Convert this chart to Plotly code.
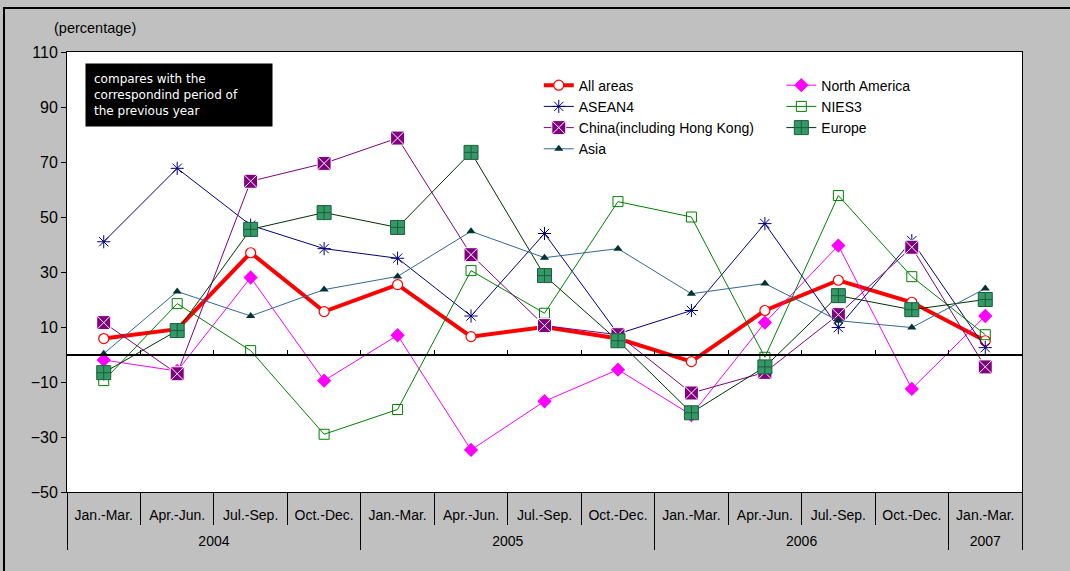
import plotly.graph_objects as go

years = ["2004"] * 4 + ["2005"] * 4 + ["2006"] * 4 + ["2007"]
quarters = ["Jan.-Mar.", "Apr.-Jun.", "Jul.-Sep.", "Oct.-Dec."] * 3 + ["Jan.-Mar."]

all_areas = [5.8, 9.2, 37, 15.6, 25.4, 6.5, 10, 5.8, -2.6, 16, 27, 19, 5]
north_america = [-2, -6, 28, -9.5, 7, -34.7, -17, -5.5, -22, 11.6, 39.6, -12.5, 14]
asean4 = [41, 67.7, 47, 38.5, 35, 14, 44, 7.5, 16, 47.6, 9.8, 41.4, 2.5]
nies3 = [-9.5, 18.5, 1.4, -29, -20, 30.5, 15, 55.6, 50, -1, 57.8, 28.3, 7.2]
china = [11.6, -7, 63, 69.5, 78.7, 36.3, 10.5, 7.2, -14, -6.5, 14.5, 39, -4.5]
europe = [-6.6, 8.7, 45.5, 51.6, 46.2, 73.5, 28.7, 5, -21.2, -4.5, 21.4, 16.3, 20]
asia = [0.3, 22.9, 14, 23.6, 28.4, 44.8, 35.2, 38.5, 22.1, 25.8, 12.3, 9.8, 24]

y_ticks = [110, 90, 70, 50, 30, 10, -10, -30, -50]

# year labels carry a leading blank line so they sit lower, as in the original
x = [[" <br>" + y for y in years], quarters]
font = "Liberation Sans, Arial, sans-serif"

fig = go.Figure()

series = [
    ("All areas", all_areas, dict(color="#FF0000", width=4),
     dict(symbol="circle", size=10, color="white", line=dict(color="#FF0000", width=1.2)), "legend"),
    ("North America", north_america, dict(color="#FF00FF", width=1),
     dict(symbol="diamond", size=11, color="#FF00FF", line=dict(color="#FF00FF", width=0)), "legend2"),
    ("ASEAN4", asean4, dict(color="#000080", width=1),
     dict(symbol="asterisk-open", size=11, color="#000080", line=dict(color="#000080", width=1)), "legend"),
    ("NIES3", nies3, dict(color="#008000", width=1),
     dict(symbol="square-open", size=10, color="#008000", line=dict(color="#008000", width=1)), "legend2"),
    ("China(including Hong Kong)", china, dict(color="#800080", width=1),
     dict(symbol="square-x", size=14, color="#800080", line=dict(color="white", width=1)), "legend"),
    ("Europe", europe, dict(color="#003300", width=1),
     dict(symbol="square-cross", size=14, color="#339966", line=dict(color="#1f5c3d", width=1)), "legend2"),
    ("Asia", asia, dict(color="#336699", width=1),
     dict(symbol="triangle-up", size=8, color="#003333", line=dict(color="#003333", width=0)), "legend"),
]

for name, vals, line, marker, leg in series:
    fig.add_trace(go.Scatter(x=x, y=vals, name=name, mode="lines+markers",
                             line=line, marker=marker, legend=leg))

# invisible trace on the overlaying axis used for the zero-line ticks
fig.add_trace(go.Scatter(x=[0, 12], y=[0, 0], xaxis="x2", mode="lines",
                         line=dict(color="rgba(0,0,0,0)"), showlegend=False,
                         hoverinfo="skip"))

legend_style = dict(
    orientation="v", y=0.96, xanchor="left", yanchor="top",
    bgcolor="rgba(0,0,0,0)", font=dict(size=14, family=font),
    itemwidth=30, traceorder="normal",
)

fig.update_layout(
    width=1070, height=571,
    margin=dict(l=67, r=48, t=52, b=79, autoexpand=False),
    paper_bgcolor="#C0C0C0",
    plot_bgcolor="white",
    font=dict(family=font, size=14.5, color="black"),
    xaxis=dict(
        type="multicategory", automargin=False, range=[-0.5, 12.5],
        showline=True, linecolor="black", linewidth=1, mirror=True,
        ticks="outside", tickson="boundaries", ticklen=32, tickcolor="black",
        showdividers=True, dividercolor="black", dividerwidth=1,
        tickfont=dict(size=14, family=font), tickangle=0,
        ticklabelstandoff=10,
        showgrid=False, zeroline=False,
    ),
    xaxis2=dict(
        overlaying="x", anchor="free", position=0.3125, side="bottom",
        range=[-0.5, 12.5], tickvals=[i + 0.5 for i in range(12)],
        ticks="inside", ticklen=4, tickcolor="black",
        showticklabels=False, showline=True, linecolor="black", linewidth=1.5,
        showgrid=False, zeroline=False, automargin=False,
    ),
    yaxis=dict(
        range=[-50, 110], tickvals=y_ticks, automargin=False,
        showline=True, linecolor="black", linewidth=1, mirror=True,
        ticks="outside", ticklen=5, tickcolor="black",
        showgrid=False, zeroline=False,
        tickfont=dict(size=16, family=font),
    ),
    legend=dict(x=0.494, **legend_style),
    legend2=dict(x=0.748, **legend_style),
    showlegend=True,
)

fig.add_annotation(
    xref="paper", yref="paper", x=0.019, y=0.975, xanchor="left", yanchor="top",
    text="compares with the<br>correspondind period of<br>the previous year",
    showarrow=False, align="left", bgcolor="black",
    font=dict(color="white", size=12, family="DejaVu Sans, sans-serif"),
    width=170, height=46, borderpad=8,
)
fig.add_annotation(
    xref="paper", yref="paper", x=-0.016, y=1.0545, xanchor="left", yanchor="middle",
    text="(percentage)", showarrow=False,
    font=dict(size=14.5, family=font),
)
# outer frame (left and top edges visible)
fig.add_shape(type="rect", xref="paper", yref="paper",
              x0=-63 / 955, x1=1 + 60 / 955, y0=-90 / 440, y1=1 + 44 / 440,
              line=dict(color="black", width=2), fillcolor="rgba(0,0,0,0)", layer="below")

fig.write_html("out.html", config={"displayModeBar": False},
               post_script="document.body.style.margin='0';")
